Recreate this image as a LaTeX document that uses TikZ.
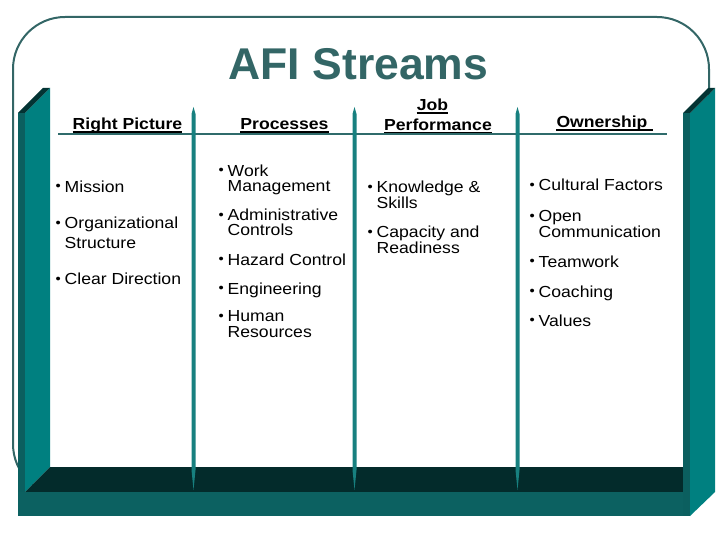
\documentclass[tikz,border=0pt]{standalone}
\usepackage{fontspec}
\setmainfont{Liberation Sans}
\newfontfamily\bodyf{Liberation Sans}[FakeStretch=1.1]
\definecolor{titlec}{HTML}{336666}
\definecolor{outl}{HTML}{336666}
\definecolor{pfront}{HTML}{008080}
\definecolor{pside}{HTML}{0B5F5F}
\definecolor{bevel}{HTML}{033333}
\definecolor{floorc}{HTML}{032B2B}
\definecolor{fband}{HTML}{0C6161}
\definecolor{divc}{HTML}{17807F}
\definecolor{hlinec}{HTML}{2F6B6B}
\newcommand\bul{\makebox[9pt][l]{\fontsize{13.5}{13.5}\selectfont\raisebox{1.5pt}{•}}}
\begin{document}
\begin{tikzpicture}[x=1pt,y=-1pt,
  item/.style={anchor=base west, inner sep=0pt, align=left, font=\bodyf\fontsize{16}{15.5}\selectfont},
  hdr/.style={anchor=base, inner sep=0pt, font=\bodyf\bfseries\fontsize{16}{16}\selectfont},
  ulline/.style={line width=1.1pt, black},
  divider/.style={fill=divc}]
\useasboundingbox (0,0) rectangle (720,540);
% outline
\draw[outl, line width=2pt, rounded corners=52pt] (13,17) rectangle (709,496);
% title
\node[anchor=base, inner sep=0pt, text=titlec, font=\bfseries\fontsize{44.5}{44.5}\selectfont] (title) at (358.5,80) {AFI Streams};
% header rule
\draw[hlinec, line width=2.5pt] (58,134) -- (667,134);
% headers
\node[hdr] (h1) at (127.5,130) {Right Picture};
\node[hdr] (h2) at (284.5,130) {Processes};
\node[hdr] (h3a) at (432.5,111) {Job};
\node[hdr] (h3b) at (438,130.5) {Performance};
\node[hdr] (h4) at (602,128) {Ownership};
\foreach \h in {h1,h2,h3a,h3b}
  \draw[ulline] ([yshift=-2pt]\h.base west) -- ([yshift=-2pt]\h.base east);
\draw[ulline] ([yshift=-2pt]h4.base west) -- ([xshift=5pt,yshift=-2pt]h4.base east);
% items column 1 (multi-line items placed by the baseline of their last line)
\node[item] (a1) at (55.5,192.5) {\bul Mission};
\node[item] (a2) at (55.5,248.5) {\bul Organizational\\[4.5pt]\hphantom{\bul}Structure};
\node[item] (a3) at (55.5,284.5) {\bul Clear Direction};
% column 2
\node[item] (b1) at (218.5,192) {\bul Work\\\hphantom{\bul}Management};
\node[item] (b2) at (218.5,236) {\bul Administrative\\\hphantom{\bul}Controls};
\node[item] (b3) at (218.5,265) {\bul Hazard Control};
\node[item] (b4) at (218.5,294) {\bul Engineering};
\node[item] (b5) at (218.5,337) {\bul Human\\\hphantom{\bul}Resources};
% column 3
\node[item] (c1) at (367.5,208) {\bul Knowledge \&\\\hphantom{\bul}Skills};
\node[item] (c2) at (367.5,253) {\bul Capacity and\\\hphantom{\bul}Readiness};
% column 4
\node[item] (d1) at (529.5,191) {\bul Cultural Factors};
\node[item] (d2) at (529.5,237) {\bul Open\\\hphantom{\bul}Communication};
\node[item] (d3) at (529.5,267) {\bul Teamwork};
\node[item] (d4) at (529.5,297) {\bul Coaching};
\node[item] (d5) at (529.5,326) {\bul Values};
% left pillar
\fill[pside] (18,113) -- (25,113) -- (25,516) -- (18,516) -- cycle;
\fill[pfront] (25,113) -- (50,88) -- (50,467) -- (25,492) -- cycle;
\fill[bevel] (18,113) -- (43,88) -- (50,88) -- (25,113) -- cycle;
% floor
\fill[floorc] (25,492) -- (50,467) -- (683,467) -- (683,492) -- cycle;
% dividers
\foreach \x in {193.5,354.5,517.5}
  \fill[divider] (\x,107) -- (\x+2,114) -- (\x+2,470) -- (\x,490) -- (\x-2,470) -- (\x-2,114) -- cycle;
% front band
\fill[fband] (18,492) rectangle (690,516);
% right pillar
\fill[pside] (683,113) -- (690,113) -- (690,516) -- (683,516) -- cycle;
\fill[pfront] (690,113) -- (715,88) -- (715,492) -- (690,516) -- cycle;
\fill[bevel] (683,113) -- (708,88) -- (715,88) -- (690,113) -- cycle;
\end{tikzpicture}
\end{document}
